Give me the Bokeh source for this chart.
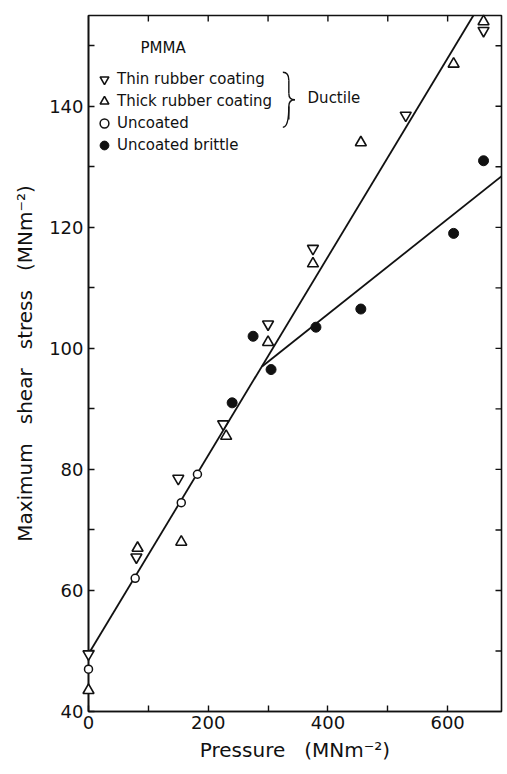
import math
from bokeh.plotting import figure
from bokeh.models import (Range1d, FixedTicker, Legend, LegendItem, Label)
from bokeh.embed import file_html
from bokeh.resources import INLINE

# ---- data ----
thin_p = [0, 80, 150, 225, 300, 375, 530, 660]
thin_v = [49.5, 65.5, 78.5, 87.5, 104, 116.5, 138.5, 152.5]

thick_p = [0, 82, 155, 230, 300, 375, 455, 610, 660]
thick_v = [43.5, 67, 68, 85.5, 101, 114, 134, 147, 154]

uncoated_p = [0, 78, 155, 182]
uncoated_v = [47, 62, 74.5, 79.2]

brittle_p = [240, 275, 305, 380, 455, 610, 660]
brittle_v = [91, 102, 96.5, 103.5, 106.5, 119, 131]

ductile_fit_p = [0, 643]
ductile_fit_v = [49.5, 155]
brittle_fit_p = [290, 692]
brittle_fit_v = [97, 128.6]

x_major = [0, 200, 400, 600]
x_minor = [100, 300, 500]
y_major = [40, 60, 80, 100, 120, 140]
y_minor = [50, 70, 90, 110, 130, 150]

XMIN, XMAX = 0, 690
YMIN, YMAX = 40, 155

FONT = "DejaVu Sans"
INK = "#111111"

p = figure(width=503, height=770, x_range=Range1d(XMIN, XMAX), y_range=Range1d(YMIN, YMAX),
           output_backend="svg", toolbar_location=None,
           min_border_left=88, min_border_right=2, min_border_top=15, min_border_bottom=59)
p.xgrid.visible = False
p.ygrid.visible = False
p.outline_line_color = INK
p.outline_line_width = 1.6
p.background_fill_color = "white"


def style_axis(ax):
    ax.axis_line_color = INK
    ax.axis_line_width = 1.6
    ax.major_tick_line_color = INK
    ax.minor_tick_line_color = INK
    ax.major_tick_line_width = 1.4
    ax.minor_tick_line_width = 1.4
    ax.major_tick_in = 6
    ax.major_tick_out = 0
    ax.minor_tick_in = 6
    ax.minor_tick_out = 0
    ax.major_label_text_font = FONT
    ax.major_label_text_font_size = "18px"
    ax.major_label_text_color = INK
    ax.axis_label_text_font = FONT
    ax.axis_label_text_font_size = "20px"
    ax.axis_label_text_font_style = "normal"
    ax.axis_label_text_color = INK


xb = p.xaxis[0]
xb.ticker = FixedTicker(ticks=x_major, minor_ticks=x_minor)
style_axis(xb)
xb.major_label_standoff = 4
xb.axis_label = "Pressure\u00a0\u00a0\u00a0(MNm\u207b\u00b2)"
xb.axis_label_standoff = 6

yl = p.yaxis[0]
yl.ticker = FixedTicker(ticks=y_major, minor_ticks=y_minor)
style_axis(yl)
yl.major_label_standoff = 5
yl.axis_label = "Maximum\u00a0\u00a0\u00a0shear\u00a0\u00a0\u00a0stress\u00a0\u00a0\u00a0(MNm\u207b\u00b2)"
yl.axis_label_standoff = 9

# inward ticks on the top and right frame edges (half of each dash is clipped by the frame)
p.scatter(x=[XMAX] * (len(y_major) + len(y_minor) - 1), y=y_major[1:] + y_minor,
          marker="dash", size=12, line_color=INK, line_width=1.4)
p.scatter(x=x_major[1:] + x_minor, y=[YMAX] * (len(x_major) + len(x_minor) - 1),
          marker="dash", angle=math.pi / 2, size=12, line_color=INK, line_width=1.4)

# ---- fitted lines ----
p.line(ductile_fit_p, ductile_fit_v, line_color=INK, line_width=1.8)
p.line(brittle_fit_p, brittle_fit_v, line_color=INK, line_width=1.8)

# ---- points ----
r_thin = p.scatter(thin_p, thin_v, marker="inverted_triangle", size=11,
                   fill_color="white", line_color=INK, line_width=1.6, level="overlay")
r_thick = p.scatter(thick_p, thick_v, marker="triangle", size=11,
                    fill_color="white", line_color=INK, line_width=1.6, level="overlay")
r_unc = p.scatter(uncoated_p, uncoated_v, marker="circle", size=8,
                  fill_color="white", line_color=INK, line_width=1.5, level="overlay")
r_brit = p.scatter(brittle_p, brittle_v, marker="circle", size=10,
                   fill_color=INK, line_color=INK, line_width=1, level="overlay")

legend = Legend(items=[
    LegendItem(label="Thin rubber coating", renderers=[r_thin]),
    LegendItem(label="Thick rubber coating", renderers=[r_thick]),
    LegendItem(label="Uncoated", renderers=[r_unc]),
    LegendItem(label="Uncoated brittle", renderers=[r_brit]),
], location=(5, 555), orientation="vertical")
legend.background_fill_alpha = 0
legend.border_line_alpha = 0
legend.padding = 0
legend.margin = 0
legend.spacing = 0
legend.glyph_width = 22
legend.glyph_height = 22
legend.label_height = 22
legend.label_standoff = 2
legend.label_text_font = FONT
legend.label_text_font_size = "15px"
legend.label_text_color = INK
legend.label_text_baseline = "middle"
p.add_layout(legend, "center")

p.add_layout(Label(x=87, y=149.6, text="PMMA", text_font=FONT, text_font_size="15px",
                   text_color=INK, text_baseline="middle"))
p.add_layout(Label(x=366, y=141.3, text="Ductile", text_font=FONT, text_font_size="15px",
                   text_color=INK, text_baseline="middle"))

# brace "}" joining the three ductile entries
bx0, bx1, bx2 = 324.7, 334.7, 344.8
by_top, by_mid, by_bot = 145.62, 141.07, 136.53
by_a, by_b, by_c, by_d = 144.3, 142.1, 140.0, 137.8
p.quadratic(x0=[bx0, bx1, bx2, bx1], y0=[by_top, by_b, by_mid, by_c],
            x1=[bx1, bx2, bx1, bx0], y1=[by_a, by_mid, by_c, by_bot],
            cx=[bx1, bx1, bx1, bx1], cy=[by_top, by_mid, by_mid, by_bot],
            line_color=INK, line_width=1.4)
p.segment(x0=[bx1, bx1], y0=[by_a, by_c], x1=[bx1, bx1], y1=[by_b, by_d],
          line_color=INK, line_width=1.4)

open("out.html", "w").write(file_html(p, INLINE))
